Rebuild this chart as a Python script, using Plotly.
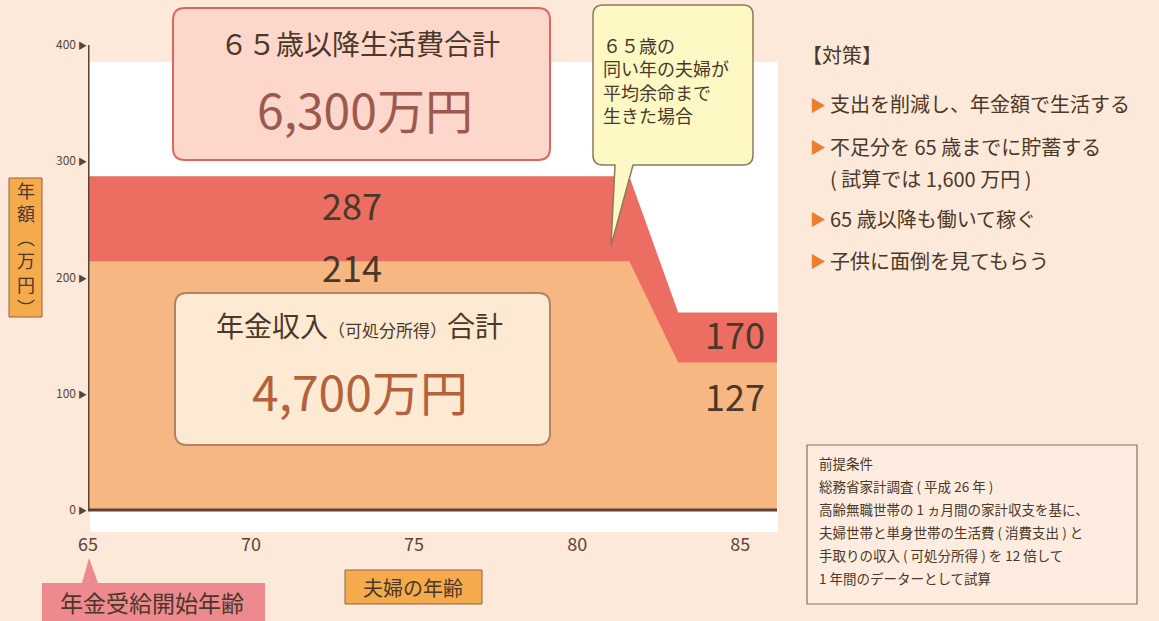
import plotly.graph_objects as go

# ---------------- data ----------------
ages = [65, 81.6, 83.1, 86.13]
expenditure = [287, 287, 170, 170]
income = [214, 214, 127, 127]
x_ticks = [65, 70, 75, 80, 85]
y_ticks = [0, 100, 200, 300, 400]
band_labels = ["287", "214", "170", "127"]
total_expense_title = "６５歳以降生活費合計"
total_expense_value = "6,300万円"
total_income_value = "4,700万円"
callout_lines = ["６５歳の", "同い年の夫婦が", "平均余命まで", "生きた場合"]
measures = ["支出を削減し、年金額で生活する", "不足分を 65 歳までに貯蓄する",
            "( 試算では 1,600 万円 )", "65 歳以降も働いて稼ぐ", "子供に面倒を見てもらう"]
premise_lines = ["前提条件", "総務省家計調査 ( 平成 26 年 )",
                 "高齢無職世帯の 1 ヵ月間の家計収支を基に、",
                 "夫婦世帯と単身世帯の生活費 ( 消費支出 ) と",
                 "手取りの収入 ( 可処分所得 ) を 12 倍して",
                 "1 年間のデーターとして試算"]
y_title_chars = ["年", "額", "︵", "万", "円", "︶"]

# ---------------- styles ----------------
FONT = "Noto Sans CJK JP"
BG = "#FDE9DA"
TXT = "#4A3828"
RED = "#EC6E63"
ORANGE = "#F7B782"
AXIS = "#5C4433"
W, H = 1159, 621
L, R, T, B = 88, 777, 45, 532


def px(x):
    return (x - L) / (R - L)


def py(y):
    return (B - y) / (B - T)


def rounded_path(x0, y0, x1, y1, r, tail=None):
    rx = r / (R - L)
    ry = r / (B - T)
    X0, X1, Y0, Y1 = px(x0), px(x1), py(y0), py(y1)
    s = f"M {X0+rx},{Y0} L {X1-rx},{Y0} Q {X1},{Y0} {X1},{Y0-ry} "
    s += f"L {X1},{Y1+ry} Q {X1},{Y1} {X1-rx},{Y1} "
    if tail:
        (bx1, bx2, tx, ty) = tail
        s += f"L {px(bx2)},{Y1} L {px(tx)},{py(ty)} L {px(bx1)},{Y1} "
    s += f"L {X0+rx},{Y1} Q {X0},{Y1} {X0},{Y1+ry} L {X0},{Y0-ry} Q {X0},{Y0} {X0+rx},{Y0} Z"
    return s


def top_tail_path(x0, y0, x1, y1, tail):
    (bx1, bx2, tx, ty) = tail
    X0, X1, Y0, Y1 = px(x0), px(x1), py(y0), py(y1)
    return (f"M {X0},{Y0} L {px(bx1)},{Y0} L {px(tx)},{py(ty)} L {px(bx2)},{Y0} "
            f"L {X1},{Y0} L {X1},{Y1} L {X0},{Y1} Z")


fig = go.Figure()
fig.add_trace(go.Scatter(x=ages, y=expenditure, fill="tozeroy", mode="lines",
                         line=dict(width=0, color=RED), fillcolor=RED, hoverinfo="skip"))
fig.add_trace(go.Scatter(x=ages, y=income, fill="tozeroy", mode="lines",
                         line=dict(width=0, color=ORANGE), fillcolor=ORANGE, hoverinfo="skip"))

shapes = []
# white plot panel
shapes.append(dict(type="rect", xref="paper", yref="paper", x0=px(90), x1=px(778), y0=0, y1=py(62),
                   fillcolor="white", line=dict(width=0), layer="below"))
# axis lines
shapes.append(dict(type="line", xref="x", yref="y", x0=65, x1=65, y0=0, y1=406,
                   line=dict(color=AXIS, width=3)))
shapes.append(dict(type="line", xref="x", yref="y", x0=65, x1=ages[-1], y0=0, y1=0,
                   line=dict(color=AXIS, width=3)))
# expenditure box
shapes.append(dict(type="path", xref="paper", yref="paper", path=rounded_path(173, 8, 550, 160, 12),
                   fillcolor="#FDD6CC", line=dict(color="#E0655C", width=2)))
# income box
shapes.append(dict(type="path", xref="paper", yref="paper", path=rounded_path(175, 293, 550, 445, 12),
                   fillcolor="#FEEAD2", line=dict(color="#B08466", width=2)))
# callout
shapes.append(dict(type="path", xref="paper", yref="paper",
                   path=rounded_path(593, 5, 753, 165, 10, tail=(615, 633, 611, 246)),
                   fillcolor="#FEF8C4", line=dict(color="#8E7A5E", width=1.5)))
# y title box
shapes.append(dict(type="rect", xref="paper", yref="paper", x0=px(9), x1=px(42), y0=py(317), y1=py(178),
                   fillcolor="#F5AA4C", line=dict(color="#8A6644", width=1)))
# x title box
shapes.append(dict(type="rect", xref="paper", yref="paper", x0=px(345), x1=px(482), y0=py(604), y1=py(570),
                   fillcolor="#F5AA4C", line=dict(color="#8A6644", width=1)))
# pension start label
shapes.append(dict(type="path", xref="paper", yref="paper",
                   path=top_tail_path(42, 583, 265, 630, (82, 98, 89, 558)),
                   fillcolor="#EE8A8F", line=dict(width=0)))
# premise box
shapes.append(dict(type="rect", xref="paper", yref="paper", x0=px(807), x1=px(1137), y0=py(604), y1=py(445),
                   fillcolor="#FDECDF", line=dict(color="#8A7060", width=1.2)))

ann = []


def add_text(x, y, text, size, color=TXT, xanchor="center", yanchor="middle", family=FONT, align="center"):
    ann.append(dict(xref="paper", yref="paper", x=px(x), y=py(y), text=text, showarrow=False,
                    xanchor=xanchor, yanchor=yanchor, align=align,
                    font=dict(family=family, size=size, color=color)))


# boxes text
add_text(360, 43, total_expense_title, 28)
add_text(365, 108, total_expense_value, 48, color="#9C5A4E")
add_text(359, 325, "年金収入<span style='font-size:17px'>（可処分所得）</span>合計", 28)
add_text(360, 390, total_income_value, 48, color="#B3623C")
# callout text (one block)
add_text(601, 80, "<br>".join(callout_lines), 18, xanchor="left", align="left")
# band labels
add_text(352, 204, band_labels[0], 36)
add_text(352, 266, band_labels[1], 36)
add_text(735, 333, band_labels[2], 36)
add_text(735, 395, band_labels[3], 36)
# y title (vertical, one char per line)
add_text(26, 248, "<br>".join(y_title_chars), 18)
add_text(413, 587, "夫婦の年齢", 20)
add_text(152, 602, "年金受給開始年齢", 23)
# measures
add_text(800, 54, "【対策】", 20, xanchor="left")
rows_y = [104, 146, 178, 218, 260]
for i, (t, yy) in enumerate(zip(measures, rows_y)):
    if i != 2:
        add_text(808, yy, "▶", 16, color="#EF7E2A", xanchor="left")
    add_text(828, yy, t, 20, xanchor="left")
# premise
for i, t in enumerate(premise_lines):
    add_text(817, 463 + i * 23, t, 13.5, xanchor="left")

fig.update_layout(
    width=W, height=H,
    margin=dict(l=L, r=W - R, t=T, b=H - B),
    paper_bgcolor=BG, plot_bgcolor=BG,
    showlegend=False,
    shapes=shapes, annotations=ann,
    font=dict(family=FONT, color=TXT),
    xaxis=dict(range=[65, ages[-1]], tickvals=x_ticks, ticktext=[str(v) for v in x_ticks],
               showgrid=False, zeroline=False, showline=False, ticks="",
               tickfont=dict(size=18, color="#5A4636", family=FONT), fixedrange=True),
    yaxis=dict(range=[-18.9, 400], tickvals=y_ticks,
               ticktext=[f"{v}<span style='font-size:9px'> ▶</span>" for v in y_ticks],
               showgrid=False, zeroline=False, showline=False, ticks="",
               tickfont=dict(size=12, color="#5A4636", family=FONT), fixedrange=True),
)

fig.write_html("out.html", config={"displayModeBar": False},
               post_script="document.body.style.margin='0';document.body.style.background='" + BG + "';")
